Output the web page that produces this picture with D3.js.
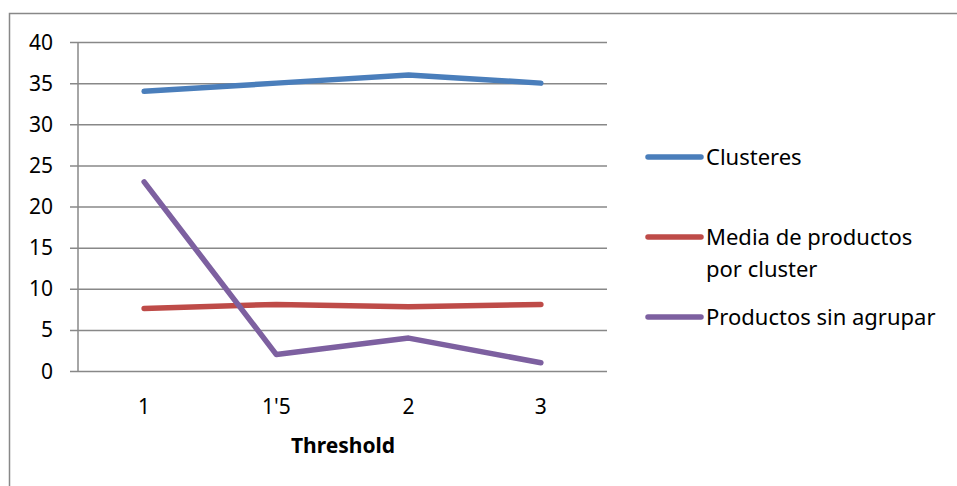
<!DOCTYPE html>
<html>
<head>
<meta charset="utf-8">
<script src="https://cdn.jsdelivr.net/npm/d3@7"></script>
<style>
  body { margin: 0; background: #fff; }
  svg { font-family: "Noto Sans", "Open Sans", sans-serif; }
</style>
</head>
<body>
<svg id="chart" width="957" height="486"></svg>
<script>
// data
const categories = ["1", "1'5", "2", "3"];
const clusteres = [34, 35, 36, 35];
const mediaProductos = [7.6, 8.1, 7.8, 8.1];
const sinAgrupar = [23, 2, 4, 1];
const yTicks = [0, 5, 10, 15, 20, 25, 30, 35, 40];

const series = [
  { name: ["Clusteres"], values: clusteres, color: "#4a7ebb" },
  { name: ["Media de productos", "por cluster"], values: mediaProductos, color: "#be4b48" },
  { name: ["Productos sin agrupar"], values: sinAgrupar, color: "#7d60a0" }
];

const svg = d3.select("#chart");

// outer chart frame (cut off at right/bottom like the original)
svg.append("rect")
  .attr("x", 9.5).attr("y", 13.5)
  .attr("width", 1200).attr("height", 1200)
  .attr("fill", "none")
  .attr("stroke", "#888").attr("stroke-width", 1.5);

const plot = { left: 78, right: 607, top: 42, bottom: 371 };

const x = d3.scaleBand().domain(categories).range([plot.left, plot.right]);
const y = d3.scaleLinear().domain([0, 40]).range([plot.bottom, plot.top]);

// gridlines + ticks
svg.append("g")
  .attr("transform", `translate(${plot.right},0)`)
  .call(d3.axisLeft(y).tickValues(yTicks).tickSize(plot.right - 70).tickFormat(""))
  .call(g => g.select(".domain").remove())
  .call(g => g.selectAll("line").attr("stroke", "#888").attr("stroke-width", 1.5));

// y axis line
svg.append("line")
  .attr("x1", plot.left).attr("x2", plot.left)
  .attr("y1", plot.top).attr("y2", plot.bottom)
  .attr("stroke", "#888").attr("stroke-width", 1.5);

// y tick labels
svg.append("g").selectAll("text")
  .data(yTicks)
  .join("text")
  .attr("x", 53)
  .attr("y", d => y(d))
  .attr("dy", "0.36em")
  .attr("text-anchor", "end")
  .attr("font-size", 21)
  .attr("fill", "#000")
  .text(d => d);

// x tick labels
svg.append("g").selectAll("text")
  .data(categories)
  .join("text")
  .attr("x", d => x(d) + x.bandwidth() / 2)
  .attr("y", 414)
  .attr("text-anchor", "middle")
  .attr("font-size", 21)
  .attr("fill", "#000")
  .text(d => d);

svg.append("text")
  .attr("x", 343)
  .attr("y", 453)
  .attr("text-anchor", "middle")
  .attr("font-size", 21)
  .attr("font-weight", "bold")
  .text("Threshold");

// lines
const line = d3.line()
  .x((d, i) => x(categories[i]) + x.bandwidth() / 2)
  .y(d => y(d));

svg.append("g").selectAll("path")
  .data(series)
  .join("path")
  .attr("d", d => line(d.values))
  .attr("fill", "none")
  .attr("stroke", d => d.color)
  .attr("stroke-width", 5.5)
  .attr("stroke-linecap", "round")
  .attr("stroke-linejoin", "round");

// legend
const legendY = [157, 237, 317];
const legend = svg.append("g").selectAll("g")
  .data(series)
  .join("g")
  .attr("transform", (d, i) => `translate(648,${legendY[i]})`);

legend.append("line")
  .attr("x1", 0).attr("x2", 53)
  .attr("stroke", d => d.color)
  .attr("stroke-width", 5.5)
  .attr("stroke-linecap", "round");

legend.append("text")
  .attr("font-size", 22)
  .attr("fill", "#000")
  .selectAll("tspan")
  .data(d => d.name)
  .join("tspan")
  .attr("x", 58)
  .attr("dy", (d, i) => i === 0 ? "0.35em" : 32)
  .text(d => d);
</script>
</body>
</html>
